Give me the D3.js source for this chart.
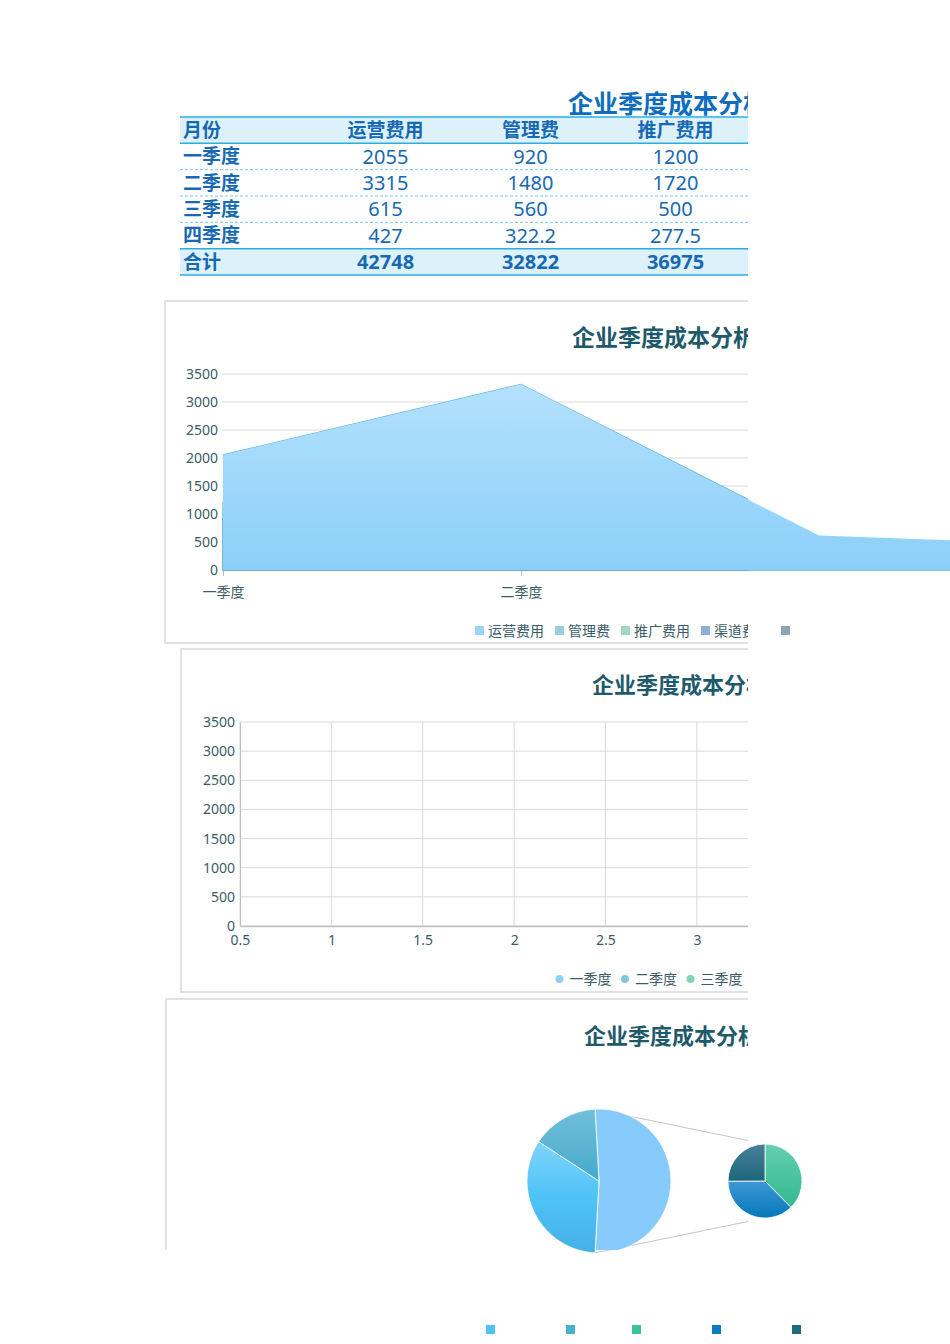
<!DOCTYPE html>
<html>
<head>
<meta charset="utf-8">
<script src="https://cdn.jsdelivr.net/npm/d3@7"></script>
<style>
  body { margin: 0; background: #fff; }
  svg { display: block; font-family: "Noto Sans", "Noto Sans CJK SC", sans-serif; }
</style>
</head>
<body>
<div id="chart"></div>
<script>
// ---- data ----
const chartTitle = "企业季度成本分析";
const quarters = ["一季度", "二季度", "三季度", "四季度"];
const costTypes = ["运营费用", "管理费", "推广费用", "渠道费用", "其他费用"];
const opsCost = [2055, 3315, 615, 427];
const mgmtCost = [920, 1480, 560, 322.2];
const promoCost = [1200, 1720, 500, 277.5];
const totals = [42748, 32822, 36975];
// first-quarter split shown in the pie (last two)
const q1Share = [2055, 920, 1200, 1190, 800];
const valueTicks = [0, 500, 1000, 1500, 2000, 2500, 3000, 3500];
const scatterXTicks = [0.5, 1, 1.5, 2, 2.5, 3, 3.5, 4, 4.5];

const width = 950;
const height = 1344;
const clipRight = 748;

const textBlue = "#1769B3";
const titleTeal = "#1E5A6B";
const axisText = "#3B5B68";
const gridGray = "#D9D9D9";
const areaLegendColors = ["#9DD5F5", "#9ACDE0", "#9ED9C2", "#8FAFD8", "#8FA5B2"];
const pieColors = ["#4FC3F7", "#4BAFD0", "#3CC29C", "#0A7DC2", "#1F6B80"];
const scatterColors = ["#8BD1F6", "#7FC7DE", "#7DD6B6"];

const svg = d3.select("#chart")
  .append("svg")
  .attr("width", width)
  .attr("height", height);

svg.append("rect").attr("width", width).attr("height", height).attr("fill", "#fff");

const defs = svg.append("defs");
defs.append("clipPath").attr("id", "clipR")
  .append("rect").attr("x", 0).attr("y", 0).attr("width", clipRight).attr("height", height);

function vGrad(id, stops) {
  const g = defs.append("linearGradient").attr("id", id)
    .attr("x1", 0).attr("y1", 0).attr("x2", 0).attr("y2", 1);
  stops.forEach(([o, c]) => g.append("stop").attr("offset", o).attr("stop-color", c));
}

// tick labels past the cut edge are not shown at all
function dropHiddenTicks(axisG, scale) {
  axisG.selectAll(".tick").filter((d) => scale(d) > clipRight + 10).remove();
}

// ================= TABLE =================
const table = svg.append("g").attr("clip-path", "url(#clipR)");

table.append("text")
  .attr("x", 568).attr("y", 113)
  .style("font-family", "'Noto Sans CJK SC'")
  .style("font-size", "25px").style("font-weight", "bold")
  .style("fill", "#0E6DBE")
  .text(chartTitle);

const rowKeys = ["head", ...quarters, "合计"];
const rowY = d3.scaleBand().domain(rowKeys).range([117, 275]);
const colX = d3.scaleBand().domain(costTypes.slice(0, 3)).range([313, clipRight]);

// header + total backgrounds
["head", "合计"].forEach((k) => {
  table.append("rect")
    .attr("x", 180).attr("y", rowY(k))
    .attr("width", clipRight - 180).attr("height", rowY.bandwidth())
    .attr("fill", "#DDF1FB");
});

// solid borders
[rowY("head"), rowY("head") + rowY.bandwidth(), rowY("合计"), rowY("合计") + rowY.bandwidth()]
  .forEach((y) => {
    table.append("line")
      .attr("x1", 180).attr("x2", clipRight).attr("y1", y).attr("y2", y)
      .attr("stroke", "#2AAEE0").attr("stroke-width", 1.5);
  });
// dashed row separators
quarters.slice(1).forEach((q) => {
  table.append("line")
    .attr("x1", 180).attr("x2", clipRight).attr("y1", rowY(q)).attr("y2", rowY(q))
    .attr("stroke", "#79C6EA").attr("stroke-width", 1).attr("stroke-dasharray", "3,2");
});

const rowCenter = (k) => rowY(k) + rowY.bandwidth() / 2;

// header row
table.append("text")
  .attr("x", 183).attr("y", rowCenter("head")).attr("dy", "0.36em")
  .style("font-family", "'Noto Sans CJK SC'")
  .style("font-size", "19px").style("font-weight", "bold").style("fill", textBlue)
  .text("月份");
colX.domain().forEach((c) => {
  table.append("text")
    .attr("x", colX(c) + colX.bandwidth() / 2).attr("y", rowCenter("head")).attr("dy", "0.36em")
    .attr("text-anchor", "middle")
    .style("font-family", "'Noto Sans CJK SC'")
    .style("font-size", "19px").style("font-weight", "bold").style("fill", textBlue)
    .text(c);
});

// quarter rows
const seriesByCol = [opsCost, mgmtCost, promoCost];
quarters.forEach((q, i) => {
  table.append("text")
    .attr("x", 183).attr("y", rowCenter(q)).attr("dy", "0.36em")
    .style("font-family", "'Noto Sans CJK SC'")
    .style("font-size", "19px").style("font-weight", "bold").style("fill", textBlue)
    .text(q);
  colX.domain().forEach((c, j) => {
    table.append("text")
      .attr("x", colX(c) + colX.bandwidth() / 2).attr("y", rowCenter(q)).attr("dy", "0.36em")
      .attr("text-anchor", "middle")
      .style("font-size", "20px").style("fill", textBlue)
      .text(seriesByCol[j][i]);
  });
});

// total row
table.append("text")
  .attr("x", 183).attr("y", rowCenter("合计")).attr("dy", "0.36em")
  .style("font-family", "'Noto Sans CJK SC'")
  .style("font-size", "19px").style("font-weight", "bold").style("fill", textBlue)
  .text("合计");
colX.domain().forEach((c, j) => {
  table.append("text")
    .attr("x", colX(c) + colX.bandwidth() / 2).attr("y", rowCenter("合计")).attr("dy", "0.36em")
    .attr("text-anchor", "middle")
    .style("font-size", "20px").style("font-weight", "bold").style("fill", textBlue)
    .text(totals[j]);
});

// ================= AREA CHART =================
const areaClip = svg.append("g").attr("clip-path", "url(#clipR)");

areaClip.append("rect")
  .attr("x", 165).attr("y", 301).attr("width", 900).attr("height", 342)
  .attr("fill", "none").attr("stroke", gridGray).attr("stroke-width", 1.5);

areaClip.append("text")
  .attr("x", 572).attr("y", 346)
  .style("font-family", "'Noto Sans CJK SC'")
  .style("font-size", "23px").style("font-weight", "bold").style("fill", titleTeal)
  .text(chartTitle);

const yArea = d3.scaleLinear().domain([0, 3500]).range([570, 374]);
const xArea = d3.scalePoint().domain(quarters).range([223, 1117]);

valueTicks.forEach((t) => {
  areaClip.append("line")
    .attr("x1", 222).attr("x2", clipRight).attr("y1", yArea(t)).attr("y2", yArea(t))
    .attr("stroke", gridGray).attr("stroke-width", 1);
});

const yAxisArea = areaClip.append("g")
  .attr("transform", "translate(222,0)")
  .call(d3.axisLeft(yArea).tickValues(valueTicks).tickSize(0).tickPadding(4)
    .tickFormat(d3.format("d")));
yAxisArea.select(".domain").remove();
yAxisArea.selectAll("text").style("font-size", "14px").style("fill", axisText)
  .style("font-family", "'Noto Sans'");

const xAxisArea = areaClip.append("g")
  .attr("transform", "translate(0,570)")
  .call(d3.axisBottom(xArea).tickSize(6).tickPadding(11));
dropHiddenTicks(xAxisArea, xArea);
xAxisArea.select(".domain").attr("stroke", "#BFBFBF");
xAxisArea.selectAll(".tick line").attr("stroke", "#BFBFBF");
xAxisArea.selectAll("text").style("font-size", "14px").style("fill", axisText)
  .style("font-family", "'Noto Sans CJK SC'");

vGrad("gOps", [[0, "#B6E2FC"], [1, "#8BCFF9"]]);
vGrad("gMgmt", [[0, "#A9D6E6"], [1, "#8CC6DA"]]);
vGrad("gPromo", [[0, "#AEE0CC"], [1, "#8FD2B8"]]);
defs.select("#gOps").attr("gradientUnits", "userSpaceOnUse").attr("y1", 374).attr("y2", 570);

const areaGen = d3.area()
  .x((d, i) => xArea(quarters[i]))
  .y0(yArea(0))
  .y1((d) => yArea(d));
const lineGen = d3.line()
  .x((d, i) => xArea(quarters[i]))
  .y((d) => yArea(d));

// back series first, 运营费用 on top; fill is not clipped
const areaLayer = svg.append("g");
[[promoCost, "url(#gPromo)", "#5FA9C9"], [mgmtCost, "url(#gMgmt)", "#5DAFC8"]].forEach(([s, f, st]) => {
  areaLayer.append("path").attr("d", areaGen(s))
    .attr("fill", f).attr("stroke", st).attr("stroke-width", 1.2);
});
areaLayer.append("path").attr("d", areaGen(opsCost)).attr("fill", "url(#gOps)");

areaClip.append("path").attr("d", lineGen(opsCost))
  .attr("fill", "none").attr("stroke", "#5AB4E0").attr("stroke-width", 1.2);
areaClip.append("line")
  .attr("x1", xArea(quarters[0])).attr("x2", clipRight)
  .attr("y1", yArea(0)).attr("y2", yArea(0))
  .attr("stroke", "#5AB4E0").attr("stroke-width", 1.2);

// legend (squares drawn unclipped, labels clipped)
function legendPositions(labels, startX, pad) {
  const temp = svg.append("text").style("font-size", "14px")
    .style("font-family", "'Noto Sans CJK SC'").style("visibility", "hidden");
  let x = startX;
  const out = labels.map((l) => {
    temp.text(l);
    const w = temp.node().getComputedTextLength();
    const p = { label: l, x: x };
    x += pad + w + 11;
    return p;
  });
  temp.remove();
  return out;
}

const areaLegend = legendPositions(costTypes, 475, 13);
areaLegend.forEach((p, i) => {
  svg.append("rect")
    .attr("x", p.x).attr("y", 626).attr("width", 9).attr("height", 9)
    .attr("fill", areaLegendColors[i]);
  if (p.x + 13 < clipRight) {
    areaClip.append("text")
      .attr("x", p.x + 13).attr("y", 636)
      .style("font-family", "'Noto Sans CJK SC'")
      .style("font-size", "14px").style("fill", axisText)
      .text(p.label);
  }
});

// ================= SCATTER (empty) =================
const sc = svg.append("g").attr("clip-path", "url(#clipR)");

sc.append("rect")
  .attr("x", 181).attr("y", 649).attr("width", 900).attr("height", 343)
  .attr("fill", "none").attr("stroke", gridGray).attr("stroke-width", 1.5);

sc.append("text")
  .attr("x", 592).attr("y", 693)
  .style("font-family", "'Noto Sans CJK SC'")
  .style("font-size", "22px").style("font-weight", "bold").style("fill", titleTeal)
  .text(chartTitle);

const ySc = d3.scaleLinear().domain([0, 3500]).range([926, 722]);
const xSc = d3.scaleLinear().domain([0.5, 4.5]).range([240, 971]);

valueTicks.forEach((t) => {
  sc.append("line")
    .attr("x1", 240).attr("x2", clipRight).attr("y1", ySc(t)).attr("y2", ySc(t))
    .attr("stroke", gridGray).attr("stroke-width", 1);
});
scatterXTicks.forEach((t) => {
  sc.append("line")
    .attr("x1", xSc(t)).attr("x2", xSc(t)).attr("y1", 722).attr("y2", 926)
    .attr("stroke", gridGray).attr("stroke-width", 1);
});

const yAxisSc = sc.append("g")
  .attr("transform", "translate(240,0)")
  .call(d3.axisLeft(ySc).tickValues(valueTicks).tickSize(0).tickPadding(5)
    .tickFormat(d3.format("d")));
yAxisSc.select(".domain").attr("stroke", "#BFBFBF");
yAxisSc.selectAll("text").style("font-size", "14px").style("fill", axisText)
  .style("font-family", "'Noto Sans'");

const xAxisSc = sc.append("g")
  .attr("transform", "translate(0,926)")
  .call(d3.axisBottom(xSc).tickValues(scatterXTicks).tickSize(0).tickPadding(9)
    .tickFormat(d3.format("")));
dropHiddenTicks(xAxisSc, xSc);
xAxisSc.select(".domain").attr("stroke", "#BFBFBF").attr("stroke-width", 1.5);
xAxisSc.selectAll("text").style("font-size", "14px").style("fill", axisText)
  .style("font-family", "'Noto Sans'");

let lx = 559.5;
quarters.slice(0, 3).forEach((q, i) => {
  sc.append("circle").attr("cx", lx).attr("cy", 979).attr("r", 4).attr("fill", scatterColors[i]);
  const t = sc.append("text")
    .attr("x", lx + 10).attr("y", 984)
    .style("font-family", "'Noto Sans CJK SC'")
    .style("font-size", "14px").style("fill", axisText)
    .text(q);
  lx += 10 + t.node().getComputedTextLength() + 13.5;
});

// ================= PIE OF PIE =================
const pc = svg.append("g").attr("clip-path", "url(#clipR)");

pc.append("path")
  .attr("d", "M166,1250V999H1066")
  .attr("fill", "none").attr("stroke", gridGray).attr("stroke-width", 1.5);

pc.append("text")
  .attr("x", 584).attr("y", 1044)
  .style("font-family", "'Noto Sans CJK SC'")
  .style("font-size", "22px").style("font-weight", "bold").style("fill", titleTeal)
  .text(chartTitle);

const mainC = [599, 1181];
const mainR = 72;
const subC = [765, 1181];
const subR = 37;

const otherValue = d3.sum(q1Share.slice(2));
const mainData = [
  { name: "other", value: otherValue },
  { name: costTypes[0], value: q1Share[0], idx: 0 },
  { name: costTypes[1], value: q1Share[1], idx: 1 },
];
const otherAngle = (otherValue / d3.sum(q1Share)) * 2 * Math.PI;
const mainStart = Math.PI / 2 - otherAngle / 2;

const mainPie = d3.pie().sort(null).value((d) => d.value)
  .startAngle(mainStart).endAngle(mainStart + 2 * Math.PI);
const mainArcs = mainPie(mainData);
const arcMain = d3.arc().innerRadius(0).outerRadius(mainR);

// connectors from the "other" slice to the secondary pie
const otherArc = mainArcs[0];
const edgePt = (a) => [mainC[0] + mainR * Math.sin(a), mainC[1] - mainR * Math.cos(a)];
const pStart = edgePt(otherArc.startAngle);
const pEnd = edgePt(otherArc.endAngle);
pc.append("line")
  .attr("x1", pStart[0]).attr("y1", pStart[1]).attr("x2", subC[0]).attr("y2", subC[1] - subR)
  .attr("stroke", "#C4C4C4").attr("stroke-width", 1);
pc.append("line")
  .attr("x1", pEnd[0]).attr("y1", pEnd[1]).attr("x2", subC[0]).attr("y2", subC[1] + subR)
  .attr("stroke", "#C4C4C4").attr("stroke-width", 1);

vGrad("gPie0", [[0, "#7ED4FA"], [0.5, "#4FC3F7"], [1, "#44B0E6"]]);
vGrad("gPie1", [[0, "#72BFDA"], [1, "#44AACB"]]);
vGrad("gPie2", [[0, "#64CFAF"], [1, "#33BA91"]]);
vGrad("gPie3", [[0, "#3F98D6"], [1, "#0477BA"]]);
vGrad("gPie4", [[0, "#4A7F98"], [1, "#1B677B"]]);

// card bottom cuts the "other" slice (in local coords of the pie group)
defs.append("clipPath").attr("id", "clipPieMain")
  .append("rect").attr("x", -mainR - 5).attr("y", -mainR - 5)
  .attr("width", 2 * mainR + 10).attr("height", 1250 - mainC[1] + mainR + 5);

const mainG = svg.append("g").attr("transform", `translate(${mainC[0]},${mainC[1]})`);
mainArcs.forEach((a) => {
  const p = mainG.append("path")
    .attr("d", arcMain(a))
    .attr("stroke", "#fff").attr("stroke-width", 0.8);
  if (a.data.name === "other") {
    p.attr("fill", "#87CBFC").attr("clip-path", "url(#clipPieMain)");
  } else {
    p.attr("fill", `url(#gPie${a.data.idx})`);
  }
});

const subPie = d3.pie().sort(null).startAngle(0).endAngle(2 * Math.PI);
const arcSub = d3.arc().innerRadius(0).outerRadius(subR);
const subG = svg.append("g").attr("transform", `translate(${subC[0]},${subC[1]})`);
subPie(q1Share.slice(2)).forEach((a, i) => {
  subG.append("path")
    .attr("d", arcSub(a))
    .attr("fill", `url(#gPie${i + 2})`)
    .attr("stroke", "#fff").attr("stroke-width", 0.8);
});

// pie legend: squares only are visible
legendPositions(costTypes, 486, 13).forEach((p, i) => {
  svg.append("rect")
    .attr("x", p.x).attr("y", 1325).attr("width", 9).attr("height", 9)
    .attr("fill", pieColors[i]);
});
</script>
</body>
</html>
